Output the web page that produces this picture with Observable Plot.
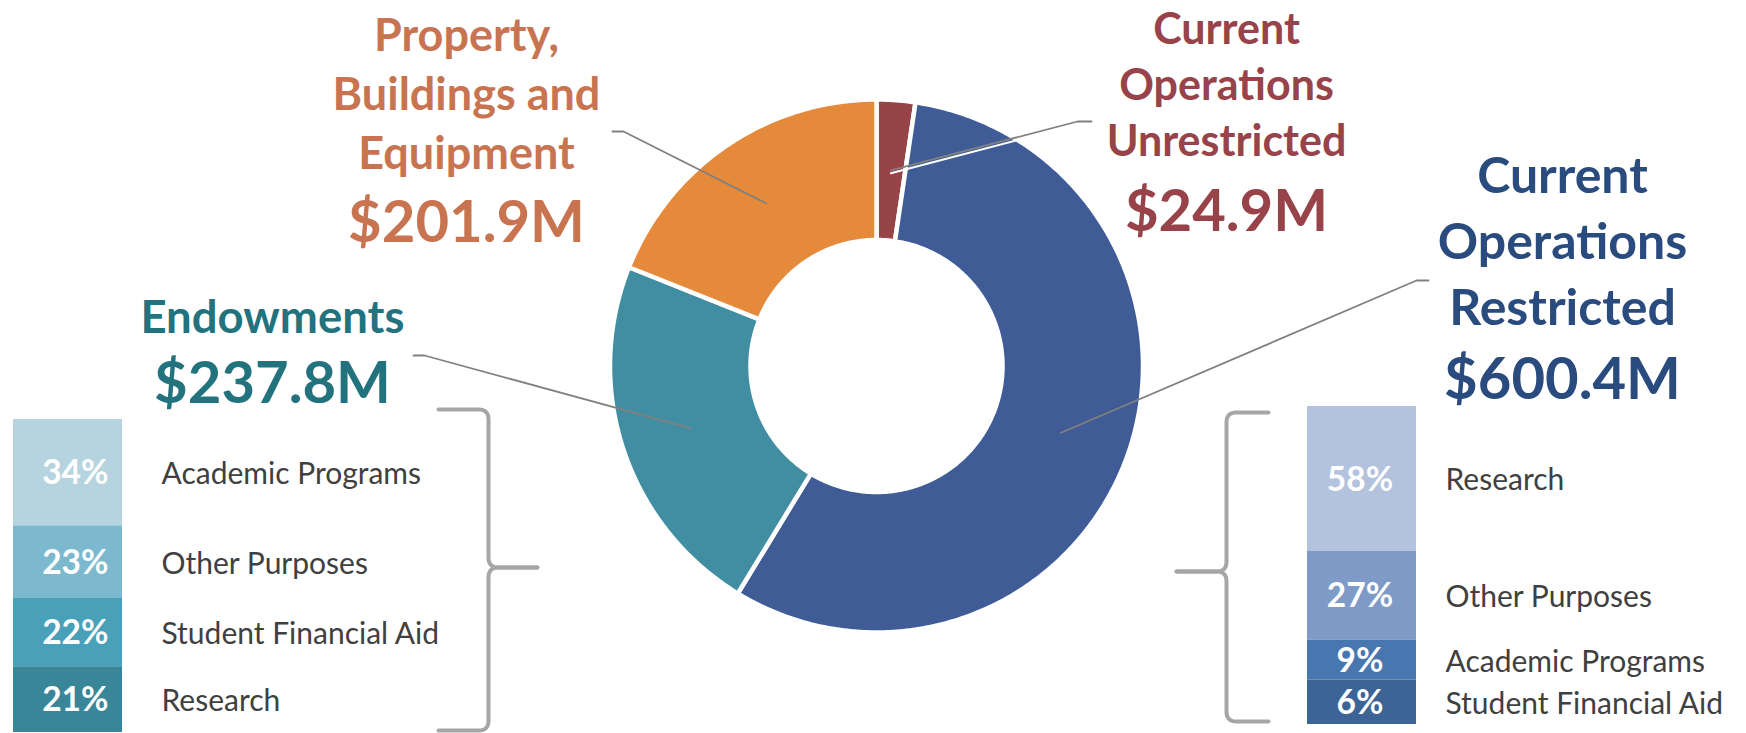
<!DOCTYPE html>
<html>
<head>
<meta charset="utf-8">
<script src="https://cdn.jsdelivr.net/npm/d3@7"></script>
<script src="https://cdn.jsdelivr.net/npm/@observablehq/plot@0.6"></script>
<style>
  html, body { margin: 0; padding: 0; background: #ffffff; }
  #chart { position: relative; width: 1746px; height: 733px; overflow: hidden; font-family: Lato, "Open Sans", sans-serif; }
  #chart > div { position: absolute; }
  #chart svg { overflow: visible; }
</style>
</head>
<body>
<div id="chart"></div>
<script>
// ---------------- data ----------------
const fundNames = ["Current Operations Unrestricted", "Current Operations Restricted", "Endowments", "Property, Buildings and Equipment"];
const fundTitles = ["Current\nOperations\nUnrestricted", "Current\nOperations\nRestricted", "Endowments", "Property,\nBuildings and\nEquipment"];
const fundAmounts = [24.9, 600.4, 237.8, 201.9]; // $ millions

const endowmentPurposes = ["Academic Programs", "Other Purposes", "Student Financial Aid", "Research"];
const endowmentShares = [34, 23, 22, 21]; // %

const restrictedPurposes = ["Research", "Other Purposes", "Academic Programs", "Student Financial Aid"];
const restrictedShares = [58, 27, 9, 6]; // %

// ---------------- styles ----------------
const sliceColors = ["#974448", "#3F5C96", "#418DA1", "#E5893B"];
const titleColors = ["#984349", "#2A4B7E", "#23737F", "#C97451"];
const endowmentColors = ["#B6D4DF", "#7CB9CE", "#48A0B9", "#3A8699"];
const restrictedColors = ["#B3C2DD", "#7E9BC7", "#4876AF", "#3D6497"];
const FONT = "Lato, 'Open Sans', sans-serif";
const GRAY_TEXT = "#404040";
const LEADER = "#808080";
const BRACE = "#A6A6A6";

// ---------------- layout ----------------
const W = 1746, H = 733;
const donut = {cx: 876, cy: 365.5, r0: 126, r1: 266.5, gap: 4.5};
const labelLayout = [
  {x: 1226, y: 30, gap: 56, size: 43, valueY: 212},
  {x: 1562, y: 176, gap: 66, size: 50, valueY: 380},
  {x: 272, y: 318, gap: 0, size: 45.5, valueY: 384},
  {x: 466, y: 36, gap: 59, size: 45, valueY: 223}
];
const valueSize = 58;
const leaderElbows = [
  [[1077, 121], [1091, 121]],
  [[1416, 280], [1428, 280]],
  [[424, 355], [413, 355]],
  [[623, 131], [612, 131]]
];

// ---------------- donut geometry from data ----------------
const fundRows = fundNames.map((name, i) => ({name, amount: fundAmounts[i]}));
const arcs = d3.pie().sort(null).value(d => d.amount).startAngle(0).endAngle(2 * Math.PI)(fundRows);
const polar = (r, t) => [donut.cx + r * Math.sin(t), donut.cy - r * Math.cos(t)];
const slicePoints = arcs.flatMap(a => {
  const n = Math.max(6, Math.ceil((a.endAngle - a.startAngle) * 80));
  const pts = [];
  for (let k = 0; k <= n; k++) {
    const t = a.startAngle + (a.endAngle - a.startAngle) * k / n;
    const [x, y] = polar(donut.r1, t);
    pts.push({fund: a.data.name, x, y});
  }
  for (let k = n; k >= 0; k--) {
    const t = a.startAngle + (a.endAngle - a.startAngle) * k / n;
    const [x, y] = polar(donut.r0, t);
    pts.push({fund: a.data.name, x, y});
  }
  return pts;
});
const centroids = arcs.map(a => polar((donut.r0 + donut.r1) / 2, (a.startAngle + a.endAngle) / 2));
const leaderPoints = arcs.flatMap((a, i) => [
  {id: i, x: centroids[i][0], y: centroids[i][1]},
  {id: i, x: leaderElbows[i][0][0], y: leaderElbows[i][0][1]},
  {id: i, x: leaderElbows[i][1][0], y: leaderElbows[i][1][1]}
]);

// ---------------- braces ----------------
function rounded(vertices, r) {
  const out = [vertices[0]];
  for (let i = 1; i < vertices.length - 1; i++) {
    const [px, py] = vertices[i], [ax, ay] = vertices[i - 1], [bx, by] = vertices[i + 1];
    const la = Math.hypot(ax - px, ay - py), lb = Math.hypot(bx - px, by - py);
    const p0 = [px + (ax - px) / la * r, py + (ay - py) / la * r];
    const p1 = [px + (bx - px) / lb * r, py + (by - py) / lb * r];
    for (let k = 0; k <= 10; k++) {
      const t = k / 10;
      out.push([
        (1 - t) * (1 - t) * p0[0] + 2 * (1 - t) * t * px + t * t * p1[0],
        (1 - t) * (1 - t) * p0[1] + 2 * (1 - t) * t * py + t * t * p1[1]
      ]);
    }
  }
  out.push(vertices[vertices.length - 1]);
  return out;
}
function brace(id, xArm, xSpine, xTip, yTop, yMid, yBot) {
  const upper = rounded([[xArm, yTop], [xSpine, yTop], [xSpine, yMid], [xTip, yMid]], 10);
  const lower = rounded([[xTip, yMid], [xSpine, yMid], [xSpine, yBot], [xArm, yBot]], 10);
  return [
    ...upper.map(([x, y]) => ({id: id + "u", x, y})),
    ...lower.map(([x, y]) => ({id: id + "l", x, y}))
  ];
}
const bracePoints = [
  ...brace("L", 438, 488, 537, 409, 567, 730),
  ...brace("R", 1268, 1226, 1176, 412, 571, 721)
];

// ---------------- main plot (donut, labels, leaders, braces) ----------------
const marks = [
  Plot.line(slicePoints, {x: "x", y: "y", z: "fund", fill: "fund", stroke: "white", strokeWidth: donut.gap, curve: "linear-closed"}),
  Plot.line(leaderPoints.filter(d => d.id === 0), {x: "x", y: "y", stroke: "white", strokeWidth: 2, dy: 3}),
  Plot.line(leaderPoints, {x: "x", y: "y", z: "id", stroke: LEADER, strokeWidth: 1.8}),
  Plot.line(bracePoints, {x: "x", y: "y", z: "id", stroke: BRACE, strokeWidth: 4, strokeLinecap: "round", strokeLinejoin: "round"})
];
fundNames.forEach((name, i) => {
  const L = labelLayout[i];
  const lines = fundTitles[i].split("\n").map((line, k) => ({line, k}));
  marks.push(Plot.text(lines, {
    x: L.x, y: d => L.y + d.k * L.gap, text: "line",
    fill: titleColors[i], fontSize: L.size, fontWeight: 700, fontFamily: FONT,
    textAnchor: "middle", lineAnchor: "middle"
  }));
  marks.push(Plot.text([fundAmounts[i]], {
    x: L.x, y: L.valueY, text: d => `$${d.toFixed(1)}M`,
    fill: titleColors[i], fontSize: valueSize, fontWeight: 700, fontFamily: FONT,
    textAnchor: "middle", lineAnchor: "middle"
  }));
});

const main = Plot.plot({
  width: W, height: H, margin: 0,
  x: {domain: [0, W], range: [0, W], axis: null},
  y: {domain: [0, H], range: [0, H], axis: null},
  color: {domain: fundNames, range: sliceColors},
  style: {background: "transparent", fontFamily: FONT},
  marks
});
const mainBox = document.createElement("div");
mainBox.style.left = "0px"; mainBox.style.top = "0px";
mainBox.appendChild(main);
document.getElementById("chart").appendChild(mainBox);

// ---------------- breakdown bars ----------------
function stackTopDown(names, shares) {
  let acc = 100;
  return names.map((name, i) => {
    const y2 = acc, y1 = acc - shares[i];
    acc = y1;
    return {name, share: shares[i], y1, y2};
  });
}

function breakdown({names, shares, colors, left, top, width, height, barWidth, yScale, mid, pctX, pctAnchor, pctDx, labelDx}) {
  const rows = stackTopDown(names, shares);
  const plot = Plot.plot({
    width, height, margin: 0,
    x: {domain: [0, 1], range: [0, barWidth], axis: null},
    y: {...yScale, domain: [0, 100], range: [height, 0], axis: null},
    color: {domain: names, range: colors},
    style: {background: "transparent", fontFamily: FONT},
    marks: [
      Plot.rect(rows, {x1: 0, x2: 1, y1: "y1", y2: "y2", fill: "name"}),
      Plot.text(rows, {x: pctX, y: mid, text: d => `${d.share}%`, dx: pctDx, dy: 1, textAnchor: pctAnchor,
        fill: "white", fontSize: 33.5, fontWeight: 700, fontFamily: FONT, lineAnchor: "middle"}),
      Plot.text(rows, {x: 1, y: mid, text: "name", dx: labelDx, dy: 2, textAnchor: "start",
        fill: GRAY_TEXT, fontSize: 30, fontFamily: FONT, lineAnchor: "middle"})
    ]
  });
  const box = document.createElement("div");
  box.style.left = left + "px"; box.style.top = top + "px";
  box.appendChild(plot);
  document.getElementById("chart").appendChild(box);
}

breakdown({
  names: endowmentPurposes, shares: endowmentShares, colors: endowmentColors,
  left: 13, top: 419, width: 430, height: 313, barWidth: 109,
  yScale: {type: "linear"},
  mid: d => (d.y1 + d.y2) / 2,
  pctX: 1, pctAnchor: "end", pctDx: -14, labelDx: 39
});

const EXP = 0.7;
breakdown({
  names: restrictedPurposes, shares: restrictedShares, colors: restrictedColors,
  left: 1307, top: 406, width: 439, height: 318, barWidth: 109,
  yScale: {type: "pow", exponent: EXP},
  mid: d => ((d.y1 ** EXP + d.y2 ** EXP) / 2) ** (1 / EXP),
  pctX: 0.5, pctAnchor: "middle", pctDx: -2, labelDx: 29
});
</script>
</body>
</html>
